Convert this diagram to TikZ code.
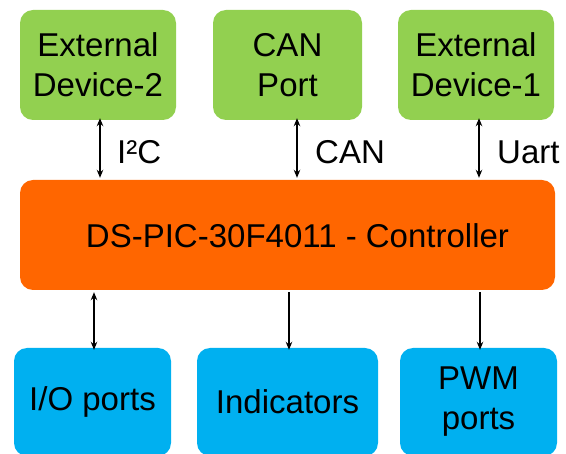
\documentclass[tikz,border=0pt]{standalone}
\usepackage{fontspec}
\setmainfont{Liberation Sans}
\usetikzlibrary{arrows.meta}
\definecolor{boxgreen}{HTML}{92D050}
\definecolor{boxorange}{HTML}{FF6600}
\definecolor{boxblue}{HTML}{00B0F0}
\begin{document}
\begin{tikzpicture}[x=1pt,y=-1pt,
  box/.style={rounded corners=13pt, inner sep=0pt, align=center,
    font=\fontsize{33}{40}\selectfont},
  lbl/.style={font=\fontsize{33}{40}\selectfont, anchor=west, inner sep=0pt},
  conn/.style={line width=1.4pt, draw=black},
  tip/.style={-{Stealth[length=8pt,width=6.5pt]}},
  dtip/.style={{Stealth[length=8pt,width=6.5pt]}-{Stealth[length=8pt,width=6.5pt]}}]
\useasboundingbox (0,0) rectangle (566,454);
\clip (0,0) rectangle (566,454);
% top row
\node[box, fill=boxgreen, minimum width=156pt, minimum height=110pt] (ext2) at (98,65) {External\\Device-2};
\node[box, fill=boxgreen, minimum width=149pt, minimum height=110pt] (can) at (287.5,65) {CAN\\Port};
\node[box, fill=boxgreen, minimum width=156pt, minimum height=110pt] (ext1) at (476,65) {External\\Device-1};
% controller
\node[box, fill=boxorange, minimum width=535pt, minimum height=110pt] (ctrl) at (287.5,235) {};
\node[lbl, anchor=center] (ctrltxt) at (297.5,236) {DS-PIC-30F4011 - Controller};
% bottom row
\node[box, fill=boxblue, minimum width=157pt, minimum height=108pt] (io) at (92.5,402) {I/O ports};
\node[box, fill=boxblue, minimum width=181pt, minimum height=108pt] (ind) at (287.5,402) {Indicators};
\node[box, fill=boxblue, minimum width=157pt, minimum height=108pt] (pwm) at (478.5,402) {PWM\\ports};
% top connectors
\draw[conn, dtip] ([xshift=2pt,yshift=2pt]ext2.south) -- ([xshift=2pt,yshift=2pt]ext2.south |- ctrl.north) coordinate (a1);
\draw[conn, dtip] ([xshift=9.5pt,yshift=2pt]can.south) -- ([xshift=9.5pt,yshift=2pt]can.south |- ctrl.north) coordinate (a2);
\draw[conn, dtip] ([xshift=3pt,yshift=2pt]ext1.south) -- ([xshift=3pt,yshift=2pt]ext1.south |- ctrl.north) coordinate (a3);
\node[lbl] (l1) at (117,152) {I²C};
\node[lbl] (l2) at (315,152) {CAN};
\node[lbl] (l3) at (497,152) {Uart};
% bottom connectors
\draw[conn, dtip] ([xshift=1.5pt,yshift=-2pt]io.north |- ctrl.south) -- ([xshift=1.5pt,yshift=-2pt]io.north);
\draw[conn, tip] ([xshift=1.5pt,yshift=-2pt]ind.north |- ctrl.south) -- ([xshift=1.5pt,yshift=-2pt]ind.north);
\draw[conn, tip] ([xshift=1.5pt,yshift=-2pt]pwm.north |- ctrl.south) -- ([xshift=1.5pt,yshift=-2pt]pwm.north);
\end{tikzpicture}
\end{document}
